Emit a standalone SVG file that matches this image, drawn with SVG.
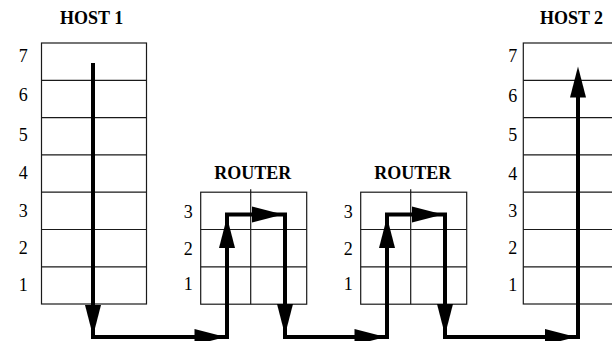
<svg xmlns="http://www.w3.org/2000/svg" xmlns:xlink="http://www.w3.org/1999/xlink" width="612" height="341" viewBox="0 0 612 341">
  <style>
    .box { fill: #fff; stroke: #1a1a1a; stroke-width: 1.2; }
    .grid { stroke: #1a1a1a; stroke-width: 1.2; fill: none; }
    .title { font-family: "Liberation Serif", "Times New Roman", serif; font-weight: bold; font-size: 18px; text-anchor: middle; fill: #000; }
    .num { font-family: "Liberation Serif", "Times New Roman", serif; font-size: 18px; text-anchor: middle; fill: #000; }
    .flow { fill: none; stroke: #000; stroke-width: 4; stroke-linejoin: miter; }
  </style>
  <defs>
    <!-- arrowhead pointing right, tip at origin -->
    <path id="ah" d="M0,0 L-31,-8 L-31,8 Z" fill="#000"/>
  </defs>

  <g id="host1">
    <text class="title" x="91.7" y="24">HOST 1</text>
    <rect class="box" x="41.5" y="43" width="105" height="261"/>
    <path class="grid" d="M41.5,80.3H146.5M41.5,117.6H146.5M41.5,154.9H146.5M41.5,192.2H146.5M41.5,229.5H146.5M41.5,266.8H146.5"/>
    <text class="num" x="23.3" y="62">7</text>
    <text class="num" x="23.3" y="101">6</text>
    <text class="num" x="23.3" y="140.5">5</text>
    <text class="num" x="23.3" y="179">4</text>
    <text class="num" x="23.3" y="216.5">3</text>
    <text class="num" x="23.3" y="253.5">2</text>
    <text class="num" x="23.3" y="291">1</text>
  </g>

  <g id="router1">
    <text class="title" x="252.8" y="178.7">ROUTER</text>
    <rect class="box" x="200.7" y="192.2" width="106" height="112"/>
    <path class="grid" d="M200.7,229.5H306.7M200.7,266.8H306.7M250.7,189.3V304.2"/>
    <text class="num" x="188.3" y="218.3">3</text>
    <text class="num" x="188.3" y="255">2</text>
    <text class="num" x="188.3" y="290">1</text>
  </g>

  <g id="router2">
    <text class="title" x="412.8" y="178.7">ROUTER</text>
    <rect class="box" x="360.7" y="192.2" width="106" height="112"/>
    <path class="grid" d="M360.7,229.5H466.7M360.7,266.8H466.7M410.7,189.3V304.2"/>
    <text class="num" x="348.3" y="218.3">3</text>
    <text class="num" x="348.3" y="255">2</text>
    <text class="num" x="348.3" y="290">1</text>
  </g>

  <g id="host2">
    <text class="title" x="571.5" y="24">HOST 2</text>
    <rect class="box" x="523.3" y="43" width="120" height="261"/>
    <path class="grid" d="M523.3,80.3H643M523.3,117.6H643M523.3,154.9H643M523.3,192.2H643M523.3,229.5H643M523.3,266.8H643"/>
    <text class="num" x="512.7" y="62">7</text>
    <text class="num" x="512.7" y="101.5">6</text>
    <text class="num" x="512.7" y="141">5</text>
    <text class="num" x="512.7" y="179.5">4</text>
    <text class="num" x="512.7" y="216.5">3</text>
    <text class="num" x="512.7" y="253.5">2</text>
    <text class="num" x="512.7" y="290.5">1</text>
  </g>

  <g id="connectors">
    <path class="flow" d="M93,63V337H227V214.5H285V337H387V214.5H445V337H578V80"/>
    <use xlink:href="#ah" transform="translate(93,336) rotate(90)"/>
    <use xlink:href="#ah" transform="translate(225.5,337)"/>
    <use xlink:href="#ah" transform="translate(227,217) rotate(-90)"/>
    <use xlink:href="#ah" transform="translate(283,214.5)"/>
    <use xlink:href="#ah" transform="translate(285,335) rotate(90)"/>
    <use xlink:href="#ah" transform="translate(385.5,337)"/>
    <use xlink:href="#ah" transform="translate(387,217) rotate(-90)"/>
    <use xlink:href="#ah" transform="translate(443,214.5)"/>
    <use xlink:href="#ah" transform="translate(445,335) rotate(90)"/>
    <use xlink:href="#ah" transform="translate(576,337)"/>
    <use xlink:href="#ah" transform="translate(578,66.5) rotate(-90)"/>
  </g>
</svg>
